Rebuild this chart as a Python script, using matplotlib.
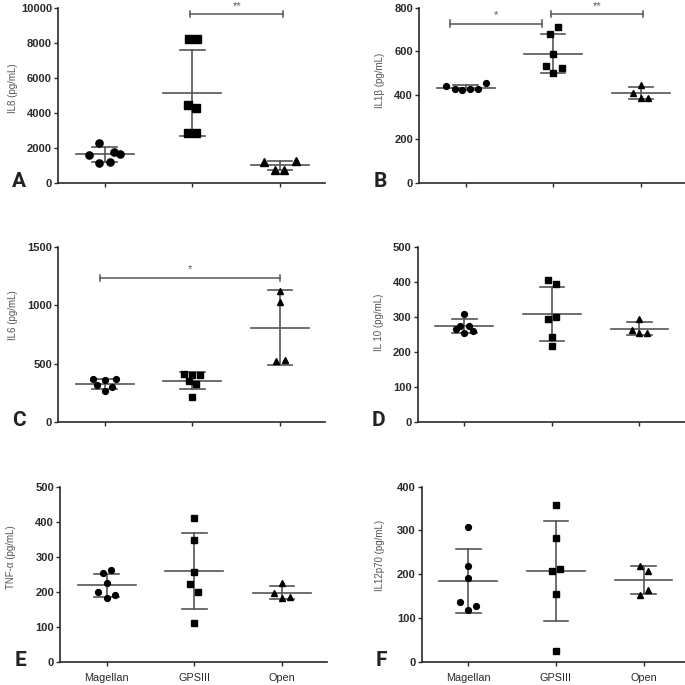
"""Cytokine levels per surgery group: six dot plots with mean +/- SD."""

import matplotlib
matplotlib.use("Agg")
import matplotlib.pyplot as plt

plt.rcParams["font.family"] = ["Liberation Sans", "DejaVu Sans"]

GROUPS = ["Magellan", "GPSIII", "Open"]
MARKERS = ["o", "s", "^"]

# values (pg/mL)
IL8_MAG = [2260, 1590, 1780, 1640, 1110, 1170]
IL8_GPS = [8200, 8200, 4440, 4250, 2870, 2870]
IL8_OPEN = [1170, 1240, 730, 730]
IL8_MEAN = [1620, 5150, 1000]
IL8_SD = [400, 2450, 260]

IL1B_MAG = [441, 430, 423, 430, 430, 456]
IL1B_GPS = [712, 680, 590, 534, 526, 503]
IL1B_OPEN = [446, 408, 388, 388]
IL1B_MEAN = [434, 590, 409]
IL1B_SD = [12, 88, 27]

IL6_MAG = [366, 357, 366, 320, 300, 266]
IL6_GPS = [414, 400, 400, 349, 326, 214]
IL6_OPEN = [1123, 1029, 520, 529]
IL6_MEAN = [328, 353, 806]
IL6_SD = [43, 74, 322]

IL10_MAG = [308, 275, 273, 265, 254, 259]
IL10_GPS = [405, 392, 294, 299, 242, 216]
IL10_OPEN = [294, 261, 254, 254]
IL10_MEAN = [273, 308, 266]
IL10_SD = [20, 77, 19]

TNF_MAG = [254, 261, 226, 199, 191, 182]
TNF_GPS = [411, 348, 257, 222, 199, 110]
TNF_OPEN = [224, 197, 182, 185]
TNF_MEAN = [219, 259, 198]
TNF_SD = [33, 108, 19]

IL12_MAG = [308, 220, 192, 137, 127, 119]
IL12_GPS = [357, 283, 207, 212, 156, 25]
IL12_OPEN = [220, 208, 165, 152]
IL12_MEAN = [184, 207, 187]
IL12_SD = [73, 114, 33]

# horizontal scatter of the dots (x units), same order as the values
JIT = {
    "A": [[-0.06, -0.18, 0.11, 0.18, -0.065, 0.06], [-0.04, 0.05, -0.045, 0.04, -0.045, 0.04], [-0.18, 0.18, -0.06, 0.05]],
    "B": [[-0.22, -0.125, -0.04, 0.05, 0.14, 0.23], [0.05, -0.04, 0, -0.085, 0.095, 0], [0, -0.095, 0, 0.085]],
    "C": [[-0.13, 0, 0.13, -0.09, 0.085, 0], [-0.09, 0, 0.09, -0.04, 0.045, 0], [0, 0, -0.04, 0.055]],
    "D": [[0, -0.045, 0.05, -0.09, 0, 0.095], [-0.045, 0.05, -0.045, 0.045, 0, 0], [0, -0.09, 0, 0.09]],
    "E": [[-0.04, 0.045, 0, -0.095, 0.095, 0], [0, 0, 0, -0.045, 0.045, 0], [0, -0.09, 0, 0.09]],
    "F": [[0, 0, 0, -0.09, 0.09, 0], [0, 0, -0.045, 0.045, 0, 0], [-0.04, 0.045, 0.045, -0.04]],
}

PANELS = [
    ("A", "IL8 (pg/mL)", [IL8_MAG, IL8_GPS, IL8_OPEN], IL8_MEAN, IL8_SD, 10000, 2000, [(1.98, 3.04, 9620, "**")]),
    ("B", "IL1β (pg/mL)", [IL1B_MAG, IL1B_GPS, IL1B_OPEN], IL1B_MEAN, IL1B_SD, 800, 200,
     [(0.82, 1.87, 727, "*"), (1.98, 3.03, 770, "**")]),
    ("C", "IL6 (pg/mL)", [IL6_MAG, IL6_GPS, IL6_OPEN], IL6_MEAN, IL6_SD, 1500, 500, [(0.95, 3.0, 1231, "*")]),
    ("D", "IL 10 (pg/mL)", [IL10_MAG, IL10_GPS, IL10_OPEN], IL10_MEAN, IL10_SD, 500, 100, []),
    ("E", "TNF-α (pg/mL)", [TNF_MAG, TNF_GPS, TNF_OPEN], TNF_MEAN, TNF_SD, 500, 100, []),
    ("F", "IL12p70 (pg/mL)", [IL12_MAG, IL12_GPS, IL12_OPEN], IL12_MEAN, IL12_SD, 400, 100, []),
]

AX_POS = {
    "A": [0.085, 0.733, 0.39, 0.256],
    "B": [0.612, 0.733, 0.39, 0.256],
    "C": [0.085, 0.384, 0.39, 0.256],
    "D": [0.610, 0.384, 0.39, 0.256],
    "E": [0.088, 0.0336, 0.39, 0.256],
    "F": [0.616, 0.0336, 0.39, 0.256],
}
# y-label centre, axes fraction
YLAB_POS = {
    "A": (-0.169, 0.54), "B": (-0.146, 0.585), "C": (-0.169, 0.61),
    "D": (-0.146, 0.57), "E": (-0.183, 0.60), "F": (-0.157, 0.61),
}

LINE = "#555555"
DARK = "#2a2a2a"

fig = plt.figure(figsize=(6.85, 6.85), dpi=100, facecolor="white")

for letter, ylabel, groups, means, sds, ymax, step, sigs in PANELS:
    ax = fig.add_axes(AX_POS[letter])
    ms = 5.2 if letter == "A" else 4.2
    for i, vals in enumerate(groups):
        x0 = i + 1
        xs = [x0 + d for d in JIT[letter][i]]
        ax.plot(xs, vals, linestyle="none", marker=MARKERS[i], color="black",
                markersize=ms if MARKERS[i] != "^" else ms + 0.4, zorder=3)
        m, s = means[i], sds[i]
        ax.plot([x0 - 0.33, x0 + 0.33], [m, m], color=LINE, lw=1.2, zorder=2)
        ax.plot([x0, x0], [m - s, m + s], color=LINE, lw=1.2, zorder=2)
        for yy in (m - s, m + s):
            ax.plot([x0 - 0.14, x0 + 0.14], [yy, yy], color=LINE, lw=1.2, zorder=2)

    for xa, xb, yb, star in sigs:
        cap = ymax * 0.018
        ax.plot([xa, xb], [yb, yb], color=LINE, lw=1.1, clip_on=False)
        for xx in (xa, xb):
            ax.plot([xx, xx], [yb - cap, yb + cap], color=LINE, lw=1.1, clip_on=False)
        ax.text((xa + xb) / 2, yb + ymax * 0.02, star, ha="center", va="bottom",
                fontsize=8, color=LINE, clip_on=False)

    ax.set_xlim(0.47, 3.52)
    ax.set_ylim(0, ymax)
    ax.set_yticks(range(0, ymax + 1, step))
    ax.set_xticks([1, 2, 3])
    if letter in ("E", "F"):
        ax.set_xticklabels(GROUPS, fontsize=7.8, color=DARK)
    else:
        ax.set_xticklabels([])
    ax.tick_params(axis="y", labelsize=8, colors=DARK, length=3, width=1, pad=1.5)
    ax.tick_params(axis="x", colors=DARK, length=3, width=1, pad=5)
    for lab in ax.get_yticklabels():
        lab.set_fontweight("bold")
    for side in ("top", "right"):
        ax.spines[side].set_visible(False)
    for side in ("left", "bottom"):
        ax.spines[side].set_color(DARK)
        ax.spines[side].set_linewidth(1.2)
    ax.set_ylabel(ylabel, fontsize=7, color="#555555", va="center")
    ax.yaxis.set_label_coords(*YLAB_POS[letter])
    ax.text(-0.172, -0.045, letter, transform=ax.transAxes, fontsize=15, fontweight="bold",
            color="#222222", ha="left", va="bottom",
            family=["Liberation Sans Narrow", "Roboto", "DejaVu Sans"])

fig.savefig("out.png", dpi=100, facecolor="white")
